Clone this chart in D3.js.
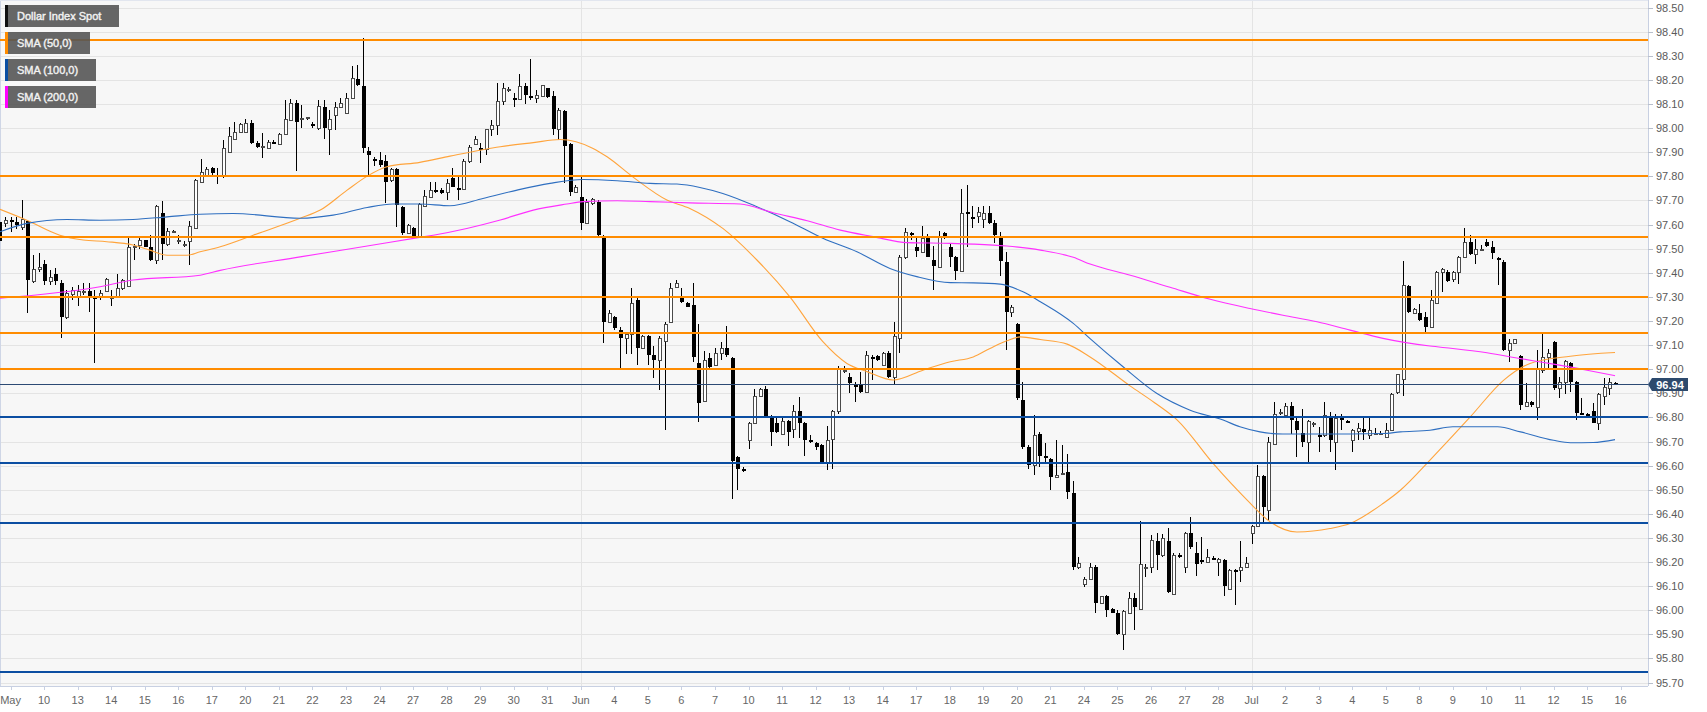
<!DOCTYPE html>
<html><head><meta charset="utf-8">
<script src="https://cdn.jsdelivr.net/npm/d3@7"></script>
<style>html,body{margin:0;padding:0;background:#fff;overflow:hidden}text{font-family:"Liberation Sans",Arial,sans-serif}</style>
</head><body><svg id="c" width="1707" height="712"></svg>
<script>
// ---- DATA (4-hour candles, Dollar Index Spot) ----
const firstCandleIndex = -1;          // index of the first candle (relative to day grid)
const candlesPerDay = 6;
const firstDayCandle = 1;              // candle index at which the first labelled day starts
// [open, high, low, close]
const candles = [
[97.61,97.67,97.50,97.53],[97.607,97.632,97.591,97.619],
[97.62,97.632,97.57,97.61],[97.61,97.63,97.58,97.60],[97.59,97.70,97.577,97.625],[97.614,97.62,97.234,97.37],[97.367,97.473,97.356,97.417],[97.415,97.48,97.404,97.425],
[97.435,97.453,97.349,97.367],[97.367,97.41,97.35,97.383],[97.394,97.418,97.349,97.367],[97.356,97.37,97.128,97.217],[97.215,97.328,97.21,97.317],[97.312,97.342,97.287,97.328],
[97.30,97.349,97.262,97.325],[97.325,97.356,97.307,97.326],[97.325,97.356,97.238,97.303],[97.30,97.33,97.027,97.295],[97.30,97.33,97.287,97.317],[97.325,97.38,97.32,97.376],
[97.30,97.328,97.262,97.30],[97.30,97.394,97.297,97.338],[97.335,97.376,97.33,97.37],[97.345,97.543,97.342,97.508],[97.51,97.52,97.455,97.512],[97.515,97.543,97.50,97.535],
[97.535,97.538,97.505,97.508],[97.505,97.556,97.45,97.455],[97.455,97.681,97.435,97.677],[97.646,97.697,97.455,97.519],[97.519,97.584,97.51,97.574],[97.57,97.578,97.563,97.572],
[97.533,97.556,97.519,97.534],[97.52,97.533,97.505,97.52],[97.533,97.616,97.432,97.594],[97.584,97.79,97.58,97.785],[97.775,97.874,97.773,97.819],[97.805,97.84,97.80,97.83],
[97.835,97.84,97.80,97.812],[97.805,97.833,97.768,97.803],[97.805,97.95,97.792,97.916],[97.902,98.006,97.898,97.967],[97.957,98.027,97.953,97.985],[97.985,98.023,97.981,98.017],
[97.985,98.036,97.978,98.022],[98.022,98.034,97.935,97.937],[97.937,97.945,97.916,97.923],[97.923,97.978,97.875,97.925],[97.916,97.95,97.912,97.944],[97.944,97.95,97.937,97.943],
[97.934,97.978,97.932,97.976],[97.976,98.117,97.972,98.036],[98.034,98.12,98.03,98.103],[98.105,98.117,97.823,98.027],[98.04,98.096,98.0,98.04],[98.04,98.047,98.033,98.045],
[98.017,98.027,98.0,98.01],[98.0,98.117,97.992,98.092],[98.089,98.117,97.953,98.0],[97.995,98.075,97.888,98.036],[98.054,98.11,97.992,98.086],[98.086,98.123,98.082,98.105],
[98.064,98.144,98.06,98.124],[98.124,98.258,98.12,98.207],[98.204,98.262,98.175,98.179],[98.175,98.373,97.895,97.919],[97.905,97.923,97.801,97.887],[97.87,97.879,97.843,97.868],
[97.866,97.902,97.84,97.847],[97.865,97.888,97.688,97.778],[97.785,97.835,97.778,97.829],[97.829,97.833,97.591,97.681],[97.674,97.677,97.556,97.566],[97.567,97.602,97.563,97.598],
[97.584,97.59,97.549,97.553],[97.552,97.69,97.55,97.685],[97.677,97.743,97.675,97.718],[97.715,97.778,97.712,97.743],[97.743,97.778,97.732,97.742],[97.745,97.75,97.725,97.731],
[97.735,97.79,97.70,97.773],[97.794,97.833,97.754,97.757],[97.753,97.80,97.70,97.752],[97.746,97.87,97.744,97.865],[97.865,97.93,97.854,97.923],[97.934,97.967,97.93,97.953],
[97.916,97.937,97.854,97.909],[97.913,97.998,97.888,97.995],[97.995,98.034,97.967,98.013],[98.013,98.186,97.971,98.114],[98.114,98.186,98.096,98.165],[98.161,98.172,98.151,98.163],
[98.123,98.147,98.089,98.117],[98.119,98.224,98.116,98.175],[98.175,98.186,98.10,98.137],[98.133,98.285,98.117,98.131],[98.123,98.158,98.105,98.137],[98.133,98.18,98.13,98.179],
[98.165,98.166,98.124,98.13],[98.133,98.155,97.971,97.995],[97.995,98.082,97.951,98.075],[98.072,98.075,97.774,97.926],[97.934,97.937,97.718,97.736],[97.736,97.764,97.732,97.757],
[97.715,97.805,97.577,97.608],[97.605,97.708,97.602,97.695],[97.688,97.709,97.68,97.706],[97.695,97.70,97.552,97.556],[97.552,97.556,97.107,97.197],[97.197,97.245,97.192,97.234],
[97.215,97.22,97.162,97.169],[97.162,97.176,96.999,97.128],[97.128,97.155,97.065,97.148],[97.148,97.335,97.063,97.276],[97.287,97.303,97.017,97.089],[97.086,97.14,97.083,97.137],
[97.137,97.142,97.017,97.058],[97.058,97.096,96.962,97.038],[97.038,97.137,96.913,97.128],[97.117,97.197,96.747,97.187],[97.197,97.356,97.19,97.335],[97.339,97.37,97.335,97.356],
[97.30,97.335,97.273,97.28],[97.276,97.28,97.256,97.259],[97.266,97.356,97.03,97.049],[97.027,97.187,96.782,96.858],[96.869,97.076,96.865,97.038],[97.045,97.068,97.003,97.01],
[97.017,97.086,97.013,97.068],[97.068,97.114,97.038,97.086],[97.086,97.179,97.051,97.058],[97.045,97.051,96.46,96.62],[96.637,96.64,96.498,96.588],[96.585,96.595,96.575,96.584],
[96.708,96.782,96.667,96.778],[96.778,96.916,96.775,96.888],[96.888,96.92,96.886,96.916],[96.916,96.93,96.80,96.803],[96.803,96.81,96.681,96.74],[96.775,96.80,96.735,96.74],
[96.731,96.803,96.727,96.786],[96.786,96.79,96.681,96.74],[96.75,96.851,96.713,96.828],[96.828,96.886,96.713,96.778],[96.775,96.78,96.64,96.708],[96.706,96.727,96.695,96.705],
[96.695,96.70,96.664,96.678],[96.685,96.69,96.606,96.609],[96.609,96.764,96.581,96.706],[96.709,96.83,96.588,96.828],[96.828,97.013,96.816,97.0],[96.996,97.013,96.983,96.998],
[96.966,96.983,96.90,96.941],[96.934,96.948,96.865,96.927],[96.934,96.99,96.902,96.906],[96.906,97.076,96.902,97.058],[97.052,97.058,96.955,97.051],[97.054,97.058,97.036,97.04],
[97.017,97.072,97.013,97.068],[97.068,97.076,96.962,96.966],[96.966,97.197,96.938,97.137],[97.128,97.474,97.068,97.467],[97.467,97.584,97.456,97.57],[97.566,97.57,97.536,97.557],
[97.505,97.547,97.467,97.491],[97.487,97.594,97.483,97.543],[97.547,97.56,97.464,97.467],[97.455,97.51,97.328,97.428],[97.425,97.574,97.422,97.552],[97.563,97.57,97.54,97.547],
[97.505,97.525,97.425,97.464],[97.464,97.469,97.37,97.407],[97.407,97.746,97.404,97.646],[97.653,97.764,97.508,97.646],[97.633,97.677,97.584,97.632],[97.635,97.674,97.605,97.653],
[97.625,97.677,97.584,97.646],[97.646,97.677,97.602,97.607],[97.607,97.618,97.524,97.556],[97.549,97.57,97.386,97.45],[97.446,97.487,97.079,97.238],[97.238,97.266,97.217,97.256],
[97.187,97.19,96.872,96.879],[96.874,96.948,96.671,96.678],[96.678,96.685,96.588,96.602],[96.602,96.809,96.56,96.726],[96.733,96.74,96.595,96.639],[96.639,96.695,96.609,96.63],
[96.626,96.63,96.498,96.551],[96.551,96.708,96.547,96.56],[96.568,96.685,96.56,96.568],[96.574,96.648,96.46,96.491],[96.487,96.537,96.169,96.18],[96.18,96.219,96.173,96.197],
[96.108,96.139,96.097,96.128],[96.128,96.197,96.125,96.18],[96.18,96.187,95.99,96.031],[96.031,96.06,96.025,96.058],[96.058,96.063,95.973,96.0],[96.007,96.01,95.987,95.99],
[95.99,96.0,95.897,95.901],[95.901,96.003,95.837,95.998],[95.99,96.077,95.987,96.049],[96.049,96.073,95.918,96.012],[96.007,96.371,96.003,96.191],[96.18,96.191,96.139,96.181],
[96.18,96.312,96.155,96.291],[96.288,96.319,96.169,96.229],[96.229,96.316,96.222,96.298],[96.288,96.343,96.072,96.076],[96.067,96.236,96.063,96.229],[96.229,96.238,96.215,96.219],
[96.18,96.326,96.155,96.319],[96.319,96.388,96.256,96.263],[96.238,96.284,96.142,96.191],[96.208,96.302,96.194,96.207],[96.201,96.256,96.197,96.219],[96.218,96.225,96.21,96.215],
[96.201,96.215,96.142,96.211],[96.208,96.212,96.059,96.10],[96.09,96.173,96.086,96.166],[96.166,96.173,96.021,96.159],[96.169,96.288,96.118,96.18],[96.18,96.222,96.177,96.197],
[96.319,96.354,96.277,96.349],[96.349,96.602,96.346,96.556],[96.556,96.561,96.363,96.429],[96.418,96.72,96.374,96.699],[96.689,96.865,96.685,96.816],[96.823,96.837,96.81,96.824],
[96.81,96.858,96.805,96.847],[96.847,96.865,96.731,96.789],[96.786,96.796,96.637,96.747],[96.736,96.837,96.678,96.699],[96.699,96.789,96.609,96.786],[96.778,96.782,96.76,96.778],
[96.727,96.761,96.657,96.726],[96.726,96.865,96.72,96.81],[96.803,96.823,96.657,96.708],[96.699,96.814,96.581,96.796],[96.80,96.816,96.747,96.789],[96.786,96.79,96.775,96.778],
[96.706,96.75,96.657,96.747],[96.745,96.778,96.706,96.758],[96.754,96.796,96.706,96.74],[96.726,96.796,96.709,96.747],[96.733,96.755,96.73,96.737],[96.735,96.744,96.728,96.736],
[96.717,96.778,96.713,96.747],[96.747,96.902,96.744,96.899],[96.906,96.982,96.899,96.98],[96.958,97.45,96.888,97.349],[97.345,97.349,97.234,97.238],[97.234,97.252,97.231,97.248],
[97.234,97.27,97.20,97.206],[97.217,97.238,97.155,97.176],[97.176,97.328,97.173,97.287],[97.276,97.409,97.273,97.404],[97.404,97.418,97.321,97.414],[97.404,97.411,97.363,97.367],
[97.376,97.409,97.363,97.404],[97.404,97.469,97.353,97.466],[97.466,97.584,97.464,97.526],[97.526,97.556,97.473,97.477],[97.477,97.542,97.436,97.497],[97.497,97.515,97.494,97.498],
[97.526,97.542,97.505,97.511],[97.505,97.533,97.459,97.48],[97.462,97.466,97.349,97.461],[97.446,97.453,97.076,97.079],[97.079,97.127,97.031,97.11],[97.11,97.127,97.107,97.127],
[97.054,97.058,96.83,96.851],[96.847,96.941,96.844,96.865],[96.865,96.87,96.844,96.851],[96.844,97.079,96.789,96.999],[96.995,97.146,96.985,97.05],[97.05,97.085,97.0,97.068],
[97.114,97.118,96.913,96.92],[96.92,96.968,96.879,96.948],[96.948,97.038,96.899,97.035],[97.027,97.031,96.906,96.948],[96.948,96.95,96.789,96.819],[96.819,96.879,96.813,96.818],
[96.816,96.82,96.81,96.815],[96.827,96.858,96.775,96.778],[96.778,96.902,96.747,96.899],[96.888,96.962,96.851,96.927],[96.92,96.962,96.892,96.948],[96.944,96.948,96.938,96.941]
];

const dayLabels = ["May","10","13","14","15","16","17","20","21","22","23","24","27","28","29","30","31",
  "Jun","4","5","6","7","10","11","12","13","14","17","18","19","20","21","24","25","26","27","28",
  "Jul","2","3","4","5","8","9","10","11","12","15","16"];
const monthLabels = ["Jun","Jul"];

const priceTicks = ["95.70","95.80","95.90","96.00","96.10","96.20","96.30","96.40","96.50","96.60","96.70",
  "96.80","96.90","97.00","97.10","97.20","97.30","97.40","97.50","97.60","97.70","97.80","97.90",
  "98.00","98.10","98.20","98.30","98.40","98.50"];

const resistanceLevels = [98.365, 97.80, 97.55, 97.30, 97.15, 97.00];
const supportLevels = [96.80, 96.61, 96.36, 95.745];
const lastPrice = 96.94;

// moving averages: [candle index, value]
const sma50 = [[-0.9,97.663],[3.9,97.618],[9.8,97.556],[14,97.536],[18.2,97.529],[22.9,97.515],[25.9,97.494],[29,97.473],[32.6,97.473],[34.9,97.487],[38.5,97.508],[44.4,97.556],[52.8,97.626],[56.4,97.66],[61.2,97.743],[64.8,97.801],[68.3,97.84],[74.2,97.858],[79.6,97.884],[88.6,97.923],[94.5,97.94],[99.3,97.953],[105.2,97.916],[107.7,97.881],[112.3,97.798],[118.4,97.702],[122.5,97.667],[128.4,97.584],[134.5,97.453],[140.4,97.30],[146.3,97.114],[150.6,97.024],[154.2,96.99],[158.9,96.955],[164.2,96.996],[169.1,97.031],[173.2,97.051],[176.2,97.086],[179.2,97.118],[181.6,97.134],[185.2,97.123],[190,97.104],[194.1,97.051],[201.3,96.93],[205.7,96.86],[209.7,96.789],[216.1,96.609],[222.2,96.457],[226.3,96.367],[231.1,96.325],[237,96.339],[240.6,96.36],[246.5,96.443],[249.6,96.498],[254.9,96.623],[256.7,96.667],[262.1,96.802],[268.1,96.955],[272.8,97.024],[280,97.054],[288,97.069]];
const sma100 = [[-0.9,97.57],[3.9,97.605],[11.1,97.621],[17,97.618],[22.9,97.621],[29,97.632],[34.9,97.643],[40.8,97.646],[52.8,97.626],[58.7,97.639],[64.8,97.671],[69.4,97.685],[74.2,97.685],[79.6,97.678],[85.5,97.708],[91.6,97.743],[97.5,97.771],[103.4,97.787],[109.5,97.782],[115.4,97.771],[120.2,97.768],[124.3,97.754],[128.4,97.729],[134.5,97.674],[140.4,97.612],[146.3,97.543],[152.4,97.487],[158.3,97.418],[163.1,97.384],[169.1,97.359],[173.2,97.358],[178,97.353],[182.1,97.321],[185.2,97.28],[191.1,97.19],[194.1,97.127],[200,97.01],[206,96.9],[212,96.83],[217.9,96.789],[220.9,96.761],[224.5,96.74],[228.6,96.731],[234.7,96.731],[240.6,96.731],[246.5,96.733],[249.6,96.74],[254.9,96.747],[259,96.761],[267,96.761],[271.1,96.74],[277,96.705],[280,96.695],[284.1,96.696],[288,96.708]];
const sma200 = [[-0.9,97.295],[17,97.342],[22.9,97.37],[34.9,97.39],[38.5,97.41],[52.8,97.466],[64.8,97.511],[74.2,97.547],[76.6,97.556],[82.6,97.584],[88.6,97.619],[94.5,97.66],[100.5,97.685],[103.4,97.695],[109.5,97.699],[115.4,97.695],[122.5,97.69],[131.5,97.685],[137.4,97.649],[143.5,97.616],[149.4,97.577],[155.3,97.55],[161.4,97.525],[169.1,97.522],[173.2,97.519],[179.2,97.511],[185.2,97.494],[191.1,97.464],[194.1,97.436],[201.3,97.39],[208.4,97.34],[215.6,97.29],[222.7,97.252],[228.6,97.224],[234.7,97.197],[240.6,97.162],[246.5,97.128],[254.9,97.096],[259,97.086],[265.1,97.068],[271.1,97.044],[277,97.021],[283,96.996],[288,96.973]];

const legendItems = ["Dollar Index Spot","SMA (50,0)","SMA (100,0)","SMA (200,0)"];

// ---- DRAWING ----
const W = 1707, H = 712;
const plot = {left:0, top:0, right:1648, bottom:686};
const colors = {series:"#111", sma50:"#ffa43c", sma100:"#2f6fc0", sma200:"#ff30ff",
  resistance:"#ff8c00", support:"#0b4ea2", legendStripe:["#111","#ff8c00","#0b4ea2","#ff00ff"]};

const svg = d3.select("#c");
const x = d3.scaleLinear().domain([-0.894, 293.9]).range([plot.left, plot.right]);
const y = d3.scaleLinear().domain([95.70, 98.50]).range([682.6, 7.6]);

svg.append("rect").attr("x",0).attr("y",0).attr("width",W).attr("height",H).attr("fill","#fff");
svg.append("rect").attr("x",plot.left).attr("y",plot.top).attr("width",plot.right-plot.left)
   .attr("height",plot.bottom-plot.top).attr("fill","#f7f7f7");

svg.append("defs").append("clipPath").attr("id","clip").append("rect")
   .attr("x",plot.left).attr("y",plot.top).attr("width",plot.right-plot.left).attr("height",plot.bottom-plot.top);

// horizontal grid
const gGrid = svg.append("g").attr("shape-rendering","crispEdges");
gGrid.selectAll("line.h").data(priceTicks).join("line")
  .attr("x1",plot.left).attr("x2",plot.right)
  .attr("y1",d=>Math.round(y(+d))+0.5).attr("y2",d=>Math.round(y(+d))+0.5)
  .attr("stroke","#e4e4e4").attr("stroke-width",1);

// day tick positions
const dayX = (i) => x(firstDayCandle + i*candlesPerDay);
const monthIdx = dayLabels.map((d,i)=>monthLabels.includes(d)?i:-1).filter(i=>i>=0);
gGrid.selectAll("line.v").data(monthIdx).join("line")
  .attr("x1",i=>Math.round(dayX(i))+0.5).attr("x2",i=>Math.round(dayX(i))+0.5)
  .attr("y1",plot.top).attr("y2",plot.bottom).attr("stroke","#e4e4e4");

// borders / axes
const gAxis = svg.append("g").attr("shape-rendering","crispEdges");
gAxis.append("line").attr("x1",0.5).attr("x2",0.5).attr("y1",0).attr("y2",plot.bottom).attr("stroke","#cfd6e6");
gAxis.append("line").attr("x1",0).attr("x2",plot.right).attr("y1",0.5).attr("y2",0.5).attr("stroke","#e2e6ef");
gAxis.append("line").attr("x1",plot.right+0.5).attr("x2",plot.right+0.5).attr("y1",0).attr("y2",plot.bottom).attr("stroke","#c8d0e2");
gAxis.append("line").attr("x1",0).attr("x2",plot.right).attr("y1",plot.bottom+0.5).attr("y2",plot.bottom+0.5).attr("stroke","#c8d0e2");

// y axis ticks + labels
gAxis.selectAll("line.yt").data(priceTicks).join("line")
  .attr("x1",plot.right).attr("x2",plot.right+5)
  .attr("y1",d=>Math.round(y(+d))+0.5).attr("y2",d=>Math.round(y(+d))+0.5).attr("stroke","#b8bfcc");
svg.append("g").selectAll("text").data(priceTicks).join("text")
  .attr("x",plot.right+8).attr("y",d=>y(+d)+4).attr("font-size",11).attr("fill","#5a5a5a").text(d=>d);

// x axis ticks + labels
gAxis.selectAll("line.xt").data(dayLabels).join("line")
  .attr("x1",(d,i)=>Math.round(dayX(i))+0.5).attr("x2",(d,i)=>Math.round(dayX(i))+0.5)
  .attr("y1",plot.bottom).attr("y2",plot.bottom+4).attr("stroke","#c8d0e2");
svg.append("g").selectAll("text").data(dayLabels).join("text")
  .attr("x",(d,i)=>dayX(i)).attr("y",704).attr("text-anchor","middle")
  .attr("font-size",11).attr("fill","#666").text(d=>d);

// candles
const gC = svg.append("g").attr("clip-path","url(#clip)").attr("shape-rendering","crispEdges");
const cData = candles.map((c,i)=>({k:firstCandleIndex+i,o:c[0],h:c[1],l:c[2],c:c[3]}));
const cx = d => Math.round(x(d.k))+0.5;
gC.selectAll("line.w").data(cData).join("line")
  .attr("x1",cx).attr("x2",cx).attr("y1",d=>y(d.h)).attr("y2",d=>y(d.l))
  .attr("stroke","#000").attr("stroke-width",1);
gC.selectAll("rect.b").data(cData).join("rect")
  .attr("x",d=> d.c>=d.o ? cx(d)-1.5 : cx(d)-2)
  .attr("width",d=> d.c>=d.o ? 3 : 4)
  .attr("y",d=>{const t=y(Math.max(d.o,d.c)); return d.c>=d.o ? Math.round(t)+0.5 : Math.round(t);})
  .attr("height",d=>{const h=Math.round(y(Math.min(d.o,d.c)))-Math.round(y(Math.max(d.o,d.c))); return Math.max(d.c>=d.o?1:1.5,h);})
  .attr("fill",d=> d.c>=d.o ? "#fff" : "#000")
  .attr("stroke",d=> d.c>=d.o ? "#4a4a4a" : "none").attr("stroke-width",1);

// moving averages
const gL = svg.append("g").attr("clip-path","url(#clip)");
const line = d3.line().x(d=>x(d[0])).y(d=>y(d[1])).curve(d3.curveMonotoneX);
[[sma50,colors.sma50],[sma100,colors.sma100],[sma200,colors.sma200]].forEach(([s,col])=>{
  gL.append("path").attr("d",line(s)).attr("fill","none").attr("stroke",col).attr("stroke-width",1.1);
});

// levels
const gLv = svg.append("g").attr("shape-rendering","crispEdges");
gLv.selectAll("line.r").data(resistanceLevels).join("line")
  .attr("x1",plot.left).attr("x2",plot.right).attr("y1",d=>Math.round(y(d))).attr("y2",d=>Math.round(y(d)))
  .attr("stroke",colors.resistance).attr("stroke-width",2);
gLv.selectAll("line.s").data(supportLevels).join("line")
  .attr("x1",plot.left).attr("x2",plot.right).attr("y1",d=>Math.round(y(d))).attr("y2",d=>Math.round(y(d)))
  .attr("stroke",colors.support).attr("stroke-width",2);
gLv.append("line").attr("x1",plot.left).attr("x2",plot.right)
  .attr("y1",Math.round(y(lastPrice))+0.5).attr("y2",Math.round(y(lastPrice))+0.5)
  .attr("stroke","#2c4a74").attr("stroke-width",1);

// last price tag
const ly = Math.round(y(lastPrice))+0.5;
svg.append("path").attr("d",`M${plot.right},${ly} L${plot.right+4},${ly-6.5} L${plot.right+40},${ly-6.5} L${plot.right+40},${ly+6.5} L${plot.right+4},${ly+6.5} Z`)
  .attr("fill","#2d4a6d");
svg.append("text").attr("x",plot.right+22).attr("y",ly+4).attr("text-anchor","middle")
  .attr("font-size",11).attr("font-weight","bold").attr("fill","#fff").text(lastPrice.toFixed(2));

// legend
const legendW = [114, 85, 91, 91];
const gLeg = svg.append("g");
legendItems.forEach((t,i)=>{
  const ty = 5 + i*27;
  gLeg.append("rect").attr("x",5).attr("y",ty).attr("width",legendW[i]).attr("height",22)
     .attr("fill","#555").attr("fill-opacity",0.9);
  gLeg.append("rect").attr("x",5).attr("y",ty).attr("width",3).attr("height",22).attr("fill",colors.legendStripe[i]);
  gLeg.append("text").attr("x",17).attr("y",ty+15).attr("font-size",11).attr("fill","#f2f2f2")
     .attr("stroke","#f2f2f2").attr("stroke-width",0.4).text(t);
});
</script></body></html>
